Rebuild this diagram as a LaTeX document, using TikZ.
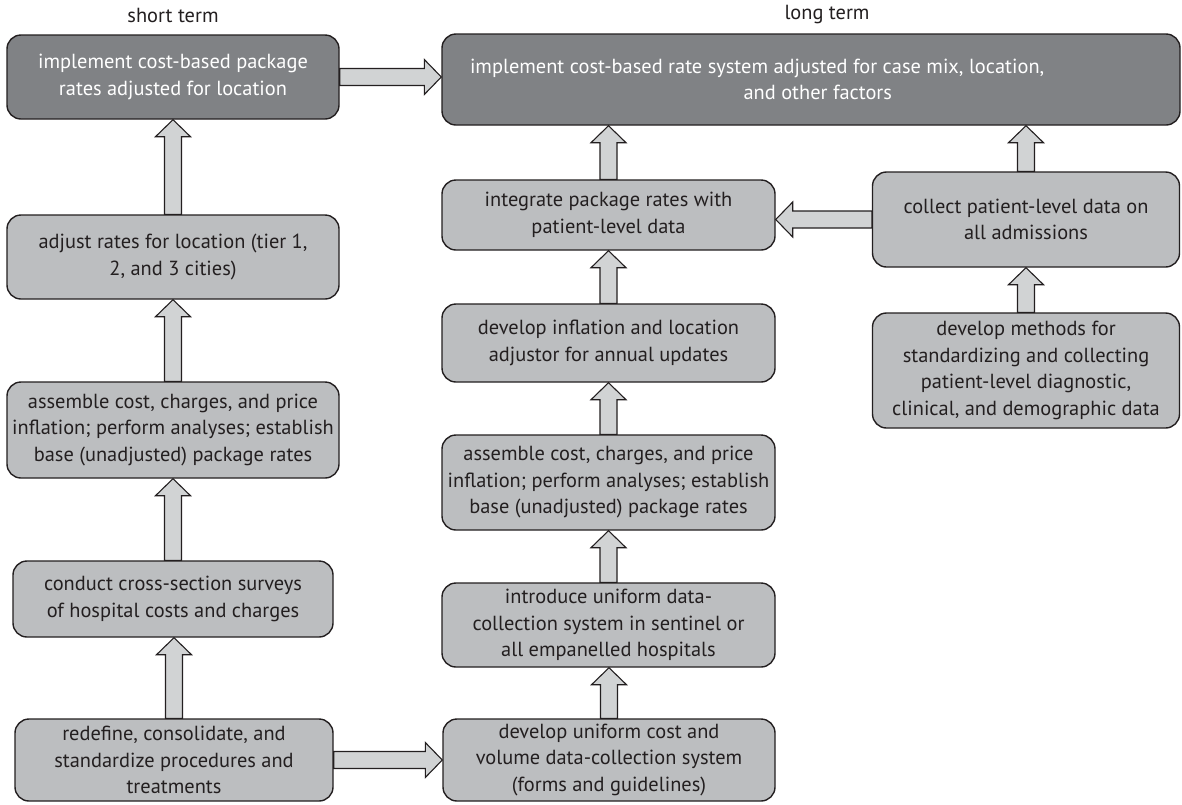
\documentclass[tikz,border=0pt]{standalone}
\usepackage{fontspec}
\setmainfont{PT Sans}
\usetikzlibrary{calc}

\definecolor{ink}{HTML}{231F20}
\definecolor{darkfill}{HTML}{808285}
\definecolor{lightfill}{HTML}{BCBEC0}
\definecolor{arrowfill}{HTML}{D1D3D4}

% block arrows between two named nodes
\newcommand\blockup[2]{%
  \path (#1.north) coordinate (bs) (#1.north |- #2.south) coordinate (bt);
  \draw[blk] ([xshift=-8.5pt]bs) -- ([xshift=-8.5pt,yshift=-17pt]bt)
    -- ([xshift=-17.5pt,yshift=-17pt]bt) -- (bt)
    -- ([xshift=17.5pt,yshift=-17pt]bt) -- ([xshift=8.5pt,yshift=-17pt]bt)
    -- ([xshift=8.5pt]bs) -- cycle;}
\newcommand\blockright[2]{%
  \path (#1.east) coordinate (bs) (#1.east -| #2.west) coordinate (bt);
  \draw[blk] ([yshift=8.5pt]bs) -- ([xshift=-17pt,yshift=8.5pt]bt)
    -- ([xshift=-17pt,yshift=17.5pt]bt) -- (bt)
    -- ([xshift=-17pt,yshift=-17.5pt]bt) -- ([xshift=-17pt,yshift=-8.5pt]bt)
    -- ([yshift=-8.5pt]bs) -- cycle;}
\newcommand\blockleft[2]{%
  \path (#1.west) coordinate (bs) (#1.west -| #2.east) coordinate (bt);
  \draw[blk] ([yshift=8.5pt]bs) -- ([xshift=17pt,yshift=8.5pt]bt)
    -- ([xshift=17pt,yshift=17.5pt]bt) -- (bt)
    -- ([xshift=17pt,yshift=-17.5pt]bt) -- ([xshift=17pt,yshift=-8.5pt]bt)
    -- ([yshift=-8.5pt]bs) -- cycle;}

\begin{document}
\begin{tikzpicture}[x=1pt,y=-1pt,
  every node/.style={font=\fontsize{20.4}{26.5}\selectfont, align=center, inner sep=0pt},
  box/.style={draw=ink, line width=1.4pt, rounded corners=14pt, text=ink, fill=lightfill},
  darkbox/.style={box, fill=darkfill, text=white},
  heading/.style={text=ink},
  blk/.style={draw=ink, line width=1.1pt, fill=arrowfill, line join=miter}]
\useasboundingbox (0,0) rectangle (1182,804);
\fill[white] (0,0) rectangle (1182,804);

% column headings
\node[heading] (hshort) at (173,15) {short term};
\node[heading] (hlong) at (827,15) {long term};

% short-term column
\node[darkbox, minimum width=332pt, minimum height=84pt] (topL) at (173,77)
  {implement cost-based package\\rates adjusted for location};
\node[box, minimum width=332pt, minimum height=84pt] (adj) at (173,257)
  {adjust rates for location (tier 1,\\2, and 3 cities)};
\node[box, minimum width=332pt, minimum height=96pt] (asmL) at (173,430)
  {assemble cost, charges, and price\\inflation; perform analyses; establish\\base (unadjusted) package rates};
\node[box, minimum width=320pt, minimum height=76pt] (cond) at (173,599)
  {conduct cross-section surveys\\of hospital costs and charges};
\node[box, minimum width=318pt, minimum height=82pt] (redef) at (174,760)
  {redefine, consolidate, and\\standardize procedures and\\treatments};

% long-term column (first line set off to the left, as in the printed layout)
\node[darkbox, minimum width=738pt, minimum height=91pt] (longT) at (811,79.5)
  {\makebox[682pt][l]{implement cost-based rate system adjusted for case mix, location,}\\
   \makebox[162pt][r]{and other factors}};
\node[box, minimum width=333pt, minimum height=70pt] (integ) at (608.5,215)
  {integrate package rates with\\patient-level data};
\node[box, minimum width=333pt, minimum height=78pt] (infl) at (608.5,343)
  {develop inflation and location\\adjustor for annual updates};
\node[box, minimum width=333pt, minimum height=95pt] (asmM) at (608.5,482.5)
  {assemble cost, charges, and price\\inflation; perform analyses; establish\\base (unadjusted) package rates};
\node[box, minimum width=333pt, minimum height=84pt] (intro) at (608.5,625)
  {introduce uniform data-\\collection system in sentinel or\\all empanelled hospitals};
\node[box, minimum width=332pt, minimum height=82pt] (unif) at (609,760)
  {develop uniform cost and\\volume data-collection system\\(forms and guidelines)};

% patient-level data column
\node[box, minimum width=307pt, minimum height=95pt] (coll) at (1026,219.5)
  {collect patient-level data on\\all admissions};
\node[box, minimum width=307pt, minimum height=115pt] (meth) at (1026,370.5)
  {develop methods for\\standardizing and collecting\\patient-level diagnostic,\\clinical, and demographic data};

% connectors
\blockright{topL}{longT}
\blockup{adj}{topL}
\blockup{asmL}{adj}
\blockup{cond}{asmL}
\blockup{redef}{cond}
\blockright{redef}{unif}
\blockup{unif}{intro}
\blockup{intro}{asmM}
\blockup{asmM}{infl}
\blockup{infl}{integ}
\blockup{integ}{longT}
\blockleft{coll}{integ}
\blockup{coll}{longT}
\blockup{meth}{coll}
\end{tikzpicture}
\end{document}
